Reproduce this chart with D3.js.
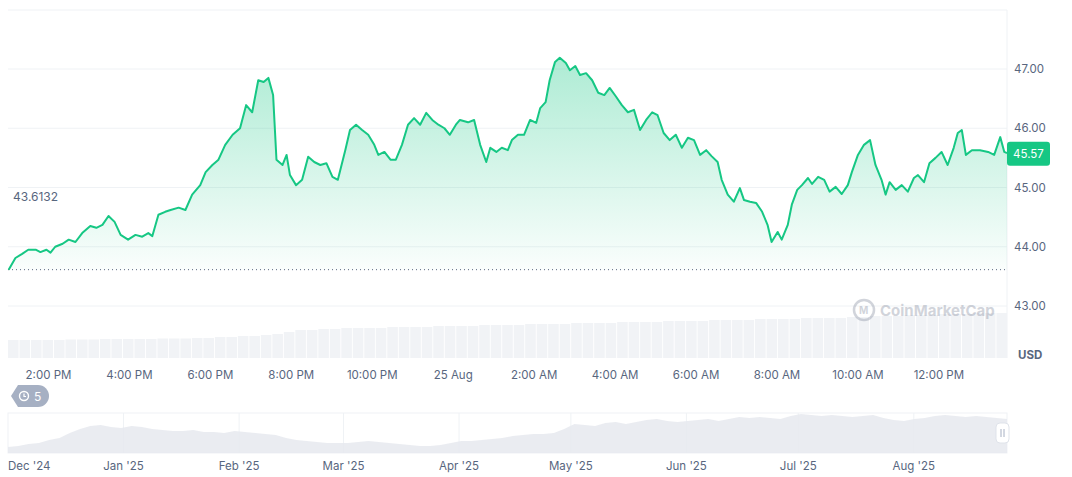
<!DOCTYPE html>
<html><head><meta charset="utf-8">
<script src="https://cdn.jsdelivr.net/npm/d3@7"></script>
<style>body{margin:0;background:#fff;font-family:Inter,"Noto Sans",sans-serif}</style>
</head><body><svg id="c" width="1072" height="477"></svg>
<script>
// minutes after 13:00 on 24 Aug
const times=[1,11,21,30,41,48,57,63,70,81,90,100,110,122,131,140,149,158,167,178,189,199,208,214,223,233,241,253,263,273,285,293,303,312,322,333,344,353,362,371,379,386,393,398,407,413,418,427,436,445,454,463,472,481,489,500,507,516,525,534,543,549,558,567,575,584,593,602,611,620,629,638,647,655,664,670,682,691,700,709,715,724,732,741,747,756,765,774,783,789,797,803,811,818,827,833,841,848,857,866,875,884,892,901,910,919,928,937,946,955,963,972,981,990,999,1008,1017,1026,1035,1043,1052,1058,1067,1076,1085,1091,1100,1109,1118,1126,1132,1141,1147,1156,1162,1170,1177,1186,1192,1201,1210,1218,1227,1236,1245,1251,1260,1269,1278,1286,1295,1301,1307,1316,1325,1334,1343,1349,1358,1366,1375,1384,1393,1402,1408,1414,1420,1429,1441,1453,1462,1471,1477,1481];
const prices=[43.61,43.81,43.88,43.95,43.95,43.91,43.95,43.90,44.00,44.05,44.12,44.08,44.23,44.35,44.32,44.37,44.52,44.42,44.20,44.12,44.20,44.17,44.23,44.18,44.54,44.59,44.62,44.66,44.62,44.88,45.04,45.26,45.38,45.47,45.72,45.89,46.00,46.39,46.27,46.81,46.78,46.85,46.56,45.47,45.38,45.55,45.21,45.04,45.13,45.52,45.43,45.38,45.41,45.18,45.13,45.63,45.97,46.06,45.97,45.89,45.72,45.55,45.60,45.47,45.47,45.72,46.06,46.17,46.06,46.26,46.14,46.06,46.00,45.89,46.06,46.14,46.10,46.14,45.72,45.43,45.67,45.60,45.67,45.63,45.80,45.89,45.89,46.14,46.09,46.34,46.44,46.81,47.12,47.19,47.10,46.98,47.05,46.90,46.93,46.81,46.60,46.56,46.68,46.54,46.39,46.27,46.31,45.97,46.14,46.27,46.22,45.92,45.80,45.89,45.67,45.84,45.80,45.55,45.63,45.53,45.43,45.13,44.88,44.76,44.99,44.79,44.76,44.74,44.59,44.37,44.08,44.25,44.12,44.37,44.71,44.96,45.04,45.16,45.06,45.18,45.13,44.93,45.01,44.89,45.04,45.26,45.55,45.72,45.80,45.38,45.13,44.88,45.09,44.96,45.04,44.93,45.16,45.21,45.09,45.41,45.50,45.60,45.38,45.67,45.92,45.97,45.55,45.63,45.63,45.60,45.55,45.85,45.60,45.58];
const volumes=[18,18,18,18,18,18.5,18.5,18.5,19,19,19,19,19,19.5,19.5,19.5,20,20,21,21,22,22,23,24,26,28,28,29,29,30,30,30,30,31,31,31,31,32,32,32,32,33,33,33,33,34,34,34,34,35,35,35,35,36,36,36,36,37,37,37,37,38,38,38,38,39,39,39,39,40,40,40,40,41,41,42,42,42,43,43,43,44,44,44,45,45,45];
const yTicks=[43,44,45,46,47];
const xTickLabels=["2:00 PM","4:00 PM","6:00 PM","8:00 PM","10:00 PM","25 Aug","2:00 AM","4:00 AM","6:00 AM","8:00 AM","10:00 AM","12:00 PM"];
const openPrice=43.6132, lastPrice=45.57;
const navMonths=["Dec '24","Jan '25","Feb '25","Mar '25","Apr '25","May '25","Jun '25","Jul '25","Aug '25"];
const navMonthDays=[0,31,62,90,121,151,182,212,243];
const navValues=[6,7,9,10,13,15,20,24,27,28,26,25,27,26,24,23,22,22,23,21,21,20,22,21,20,19,18,15,13,12,11,10,10,10,11,12,11,10,9,8,7,7,8,10,12,12,13,14,15,17,18,19,19,20,24,29,28,27,30,31,29,31,33,34,32,31,32,33,34,32,34,36,35,36,35,34,37,39,38,37,38,37,36,37,38,35,33,32,34,35,37,38,37,36,37,36,35,34];
const navDays=268;

const svg=d3.select("#c");
const L=8,R=1007,T=10,B=358;
const x=d3.scaleLinear().domain([0,1481]).range([L,R]);
const y=d3.scaleLinear().domain([47,43]).range([69,306]);
const grid="#eff2f5";
svg.append("line").attr("x1",L).attr("x2",R).attr("y1",T).attr("y2",T).attr("stroke",grid);
svg.append("line").attr("x1",R).attr("x2",R).attr("y1",T).attr("y2",B).attr("stroke",grid);
yTicks.forEach(t=>{
  svg.append("line").attr("x1",L).attr("x2",R).attr("y1",y(t)).attr("y2",y(t)).attr("stroke",grid);
  svg.append("text").attr("x",1014).attr("y",y(t)+4).attr("font-size",11.5).attr("fill","#58667e").text(t.toFixed(2));
});
svg.append("text").attr("x",1018).attr("y",359).attr("font-size",11.5).attr("font-weight",700).attr("fill","#58667e").text("USD");
// volume
const vx=d3.scaleBand().domain(d3.range(volumes.length)).range([L,R]).paddingInner(0.08);
const vy=d3.scaleLinear().domain([0,100]).range([B,B-100]);
svg.append("g").selectAll("rect").data(volumes).join("rect")
  .attr("x",(d,i)=>vx(i)).attr("width",vx.bandwidth()).attr("y",d=>vy(d)).attr("height",d=>B-vy(d)).attr("fill","#f1f3f6");
// watermark
const wm=svg.append("g").attr("opacity",0.35);
wm.append("circle").attr("cx",864).attr("cy",310).attr("r",10).attr("fill","none").attr("stroke","#7d8699").attr("stroke-width",2.5);
wm.append("text").attr("x",859).attr("y",314).attr("font-size",10).attr("font-weight",700).attr("fill","#7d8699").text("M");
wm.append("text").attr("x",880).attr("y",316).attr("font-size",15).attr("font-weight",700).attr("fill","#7d8699").text("CoinMarketCap");
// area + line
const data=times.map((t,i)=>({t,p:prices[i]}));
const defs=svg.append("defs");
const g=defs.append("linearGradient").attr("id","gr").attr("x1",0).attr("x2",0).attr("y1",0).attr("y2",1);
g.append("stop").attr("offset","0%").attr("stop-color","#16c784").attr("stop-opacity",0.35);
g.append("stop").attr("offset","100%").attr("stop-color","#16c784").attr("stop-opacity",0.02);
svg.append("path").datum(data).attr("fill","url(#gr)")
  .attr("d",d3.area().x(d=>x(d.t)).y0(y(openPrice)).y1(d=>y(d.p)));
svg.append("line").attr("x1",L).attr("x2",R).attr("y1",y(openPrice)).attr("y2",y(openPrice)).attr("stroke","#58667e").attr("stroke-dasharray","1,3");
svg.append("path").datum(data).attr("fill","none").attr("stroke","#16c784").attr("stroke-width",2).attr("stroke-linejoin","round")
  .attr("d",d3.line().x(d=>x(d.t)).y(d=>y(d.p)));
svg.append("text").attr("x",13).attr("y",201).attr("font-size",12).attr("fill","#58667e").text(openPrice.toFixed(4));
svg.append("rect").attr("x",1007).attr("y",y(lastPrice)-12).attr("width",43).attr("height",24).attr("rx",3).attr("fill","#16c784");
svg.append("text").attr("x",1028.5).attr("y",y(lastPrice)+4).attr("text-anchor","middle").attr("font-size",11.5).attr("fill","#fff").text(lastPrice.toFixed(2));
// x ticks
xTickLabels.forEach((s,i)=>{
  svg.append("text").attr("x",x(60+i*120)).attr("y",379).attr("text-anchor","middle").attr("font-size",11.5).attr("fill","#58667e").text(s);
});
// history badge
svg.append("path").attr("d","M18,385 H38 A11,11 0 0 1 38,407 H18 L11,396 Z").attr("fill","#a6b0c3");
svg.append("circle").attr("cx",24).attr("cy",396).attr("r",4.5).attr("fill","none").attr("stroke","#fff").attr("stroke-width",1.4);
svg.append("path").attr("d","M24,393.5 V396.5 H26").attr("fill","none").attr("stroke","#fff").attr("stroke-width",1.2);
svg.append("text").attr("x",34).attr("y",400.5).attr("font-size",12).attr("fill","#fff").text("5");
// navigator
const NT=413,NB=453;
const nx=d3.scaleLinear().domain([0,navDays]).range([L,R]);
const ny=d3.scaleLinear().domain([0,40]).range([NB,NT]);
svg.append("rect").attr("x",L).attr("y",NT).attr("width",R-L).attr("height",NB-NT).attr("fill","#fff").attr("stroke","#eff2f5");
navMonthDays.forEach((d,i)=>{
  if(i>0) svg.append("line").attr("x1",nx(d)).attr("x2",nx(d)).attr("y1",NT).attr("y2",NB).attr("stroke","#eff2f5");
  svg.append("text").attr("x",i===0?L:nx(d)).attr("y",470).attr("text-anchor",i===0?"start":"middle").attr("font-size",11.5).attr("fill","#58667e").text(navMonths[i]);
});
const nd=navValues.map((v,i)=>({d:i*navDays/(navValues.length-1),v}));
svg.append("path").datum(nd).attr("fill","#e6e9ee").attr("opacity",0.85)
  .attr("d",d3.area().x(d=>nx(d.d)).y0(NB).y1(d=>ny(d.v)));
svg.append("rect").attr("x",996).attr("y",423).attr("width",13).attr("height",20).attr("rx",4).attr("fill","#fff").attr("stroke","#dfe3ea");
svg.append("line").attr("x1",1001).attr("x2",1001).attr("y1",429).attr("y2",437).attr("stroke","#a6b0c3");
svg.append("line").attr("x1",1004).attr("x2",1004).attr("y1",429).attr("y2",437).attr("stroke","#a6b0c3");
</script></body></html>
